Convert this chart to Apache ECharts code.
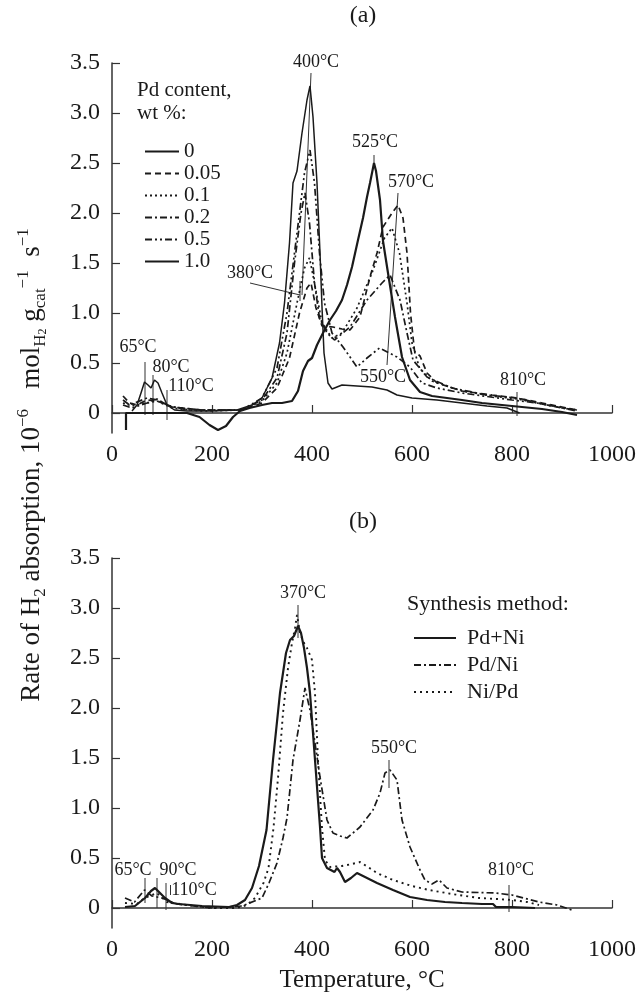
<!DOCTYPE html>
<html>
<head>
<meta charset="utf-8">
<script src="https://cdn.jsdelivr.net/npm/echarts@6/dist/echarts.min.js"></script>
<style>
  html, body { margin: 0; padding: 0; background: #fff; }
  #chart { width: 639px; height: 996px; }
</style>
</head>
<body>
<div id="chart"></div>
<script>
const FONT = '"Liberation Serif", "DejaVu Serif", serif';
const INK = '#1a1a1a';
const AXIS = '#333';

// ---- panel (a): Pd content, wt % ----
const tempA0 = [28, 28, 60, 100, 150, 175, 195, 212, 228, 242, 256, 275, 300, 320, 340, 360, 372, 382, 392, 400, 410, 422, 436, 448, 460, 470, 480, 492, 502, 510, 516, 520, 524, 528, 536, 542, 552, 566, 580, 596, 616, 640, 670, 700, 740, 780, 820, 860, 900, 930];
const rateA0 = [-0.17, 0, 0, 0, 0, -0.04, -0.12, -0.17, -0.13, -0.04, 0.02, 0.05, 0.08, 0.1, 0.1, 0.12, 0.22, 0.42, 0.52, 0.55, 0.68, 0.8, 0.93, 1.02, 1.13, 1.28, 1.46, 1.73, 1.95, 2.16, 2.3, 2.4, 2.5, 2.42, 2.13, 1.72, 1.4, 0.96, 0.56, 0.33, 0.21, 0.17, 0.15, 0.13, 0.1, 0.08, 0.06, 0.04, 0.01, -0.02];

const tempA005 = [22, 35, 50, 70, 90, 120, 180, 260, 300, 330, 355, 375, 390, 398, 408, 420, 442, 460, 476, 496, 516, 530, 542, 560, 572, 582, 590, 597, 605, 616, 630, 650, 700, 760, 810, 860, 900, 930];
const rateA005 = [0.17, 0.1, 0.08, 0.13, 0.12, 0.06, 0.03, 0.03, 0.1, 0.25, 0.55, 1.0, 1.25, 1.3, 1.05, 0.87, 0.86, 0.84, 0.83, 0.96, 1.36, 1.6, 1.86, 2.0, 2.08, 1.95, 1.6, 1.0, 0.62, 0.57, 0.4, 0.3, 0.22, 0.18, 0.15, 0.1, 0.06, 0.03];

const tempA01 = [22, 40, 70, 90, 120, 180, 260, 300, 330, 350, 370, 385, 395, 405, 420, 440, 460, 490, 520, 545, 560, 575, 590, 600, 615, 640, 700, 760, 810, 870, 930];
const rateA01 = [0.1, 0.07, 0.1, 0.12, 0.05, 0.02, 0.03, 0.12, 0.3, 0.6, 1.1, 1.45, 1.55, 1.3, 0.9, 0.75, 0.8, 1.05, 1.4, 1.75, 1.85, 1.6, 1.1, 0.7, 0.45, 0.32, 0.22, 0.17, 0.14, 0.08, 0.03];

const tempA02 = [22, 35, 70, 90, 120, 180, 260, 300, 330, 350, 365, 378, 386, 395, 405, 415, 430, 445, 476, 510, 540, 556, 576, 590, 602, 630, 680, 750, 810, 870, 930];
const rateA02 = [0.13, 0.08, 0.15, 0.13, 0.06, 0.03, 0.03, 0.13, 0.35, 0.8, 1.5, 2.0, 2.2, 1.9, 1.3, 0.95, 0.8, 0.73, 0.86, 1.13, 1.3, 1.38, 1.13, 0.8, 0.53, 0.36, 0.25, 0.18, 0.15, 0.08, 0.02];

const tempA05 = [22, 40, 70, 90, 110, 150, 260, 300, 330, 350, 370, 385, 396, 405, 415, 425, 440, 462, 490, 510, 535, 570, 596, 620, 650, 700, 800, 850, 900, 930];
const rateA05 = [0.08, 0.05, 0.1, 0.14, 0.08, 0.03, 0.03, 0.15, 0.45, 1.0, 1.8, 2.4, 2.63, 2.3, 1.6, 1.1, 0.8, 0.66, 0.46, 0.55, 0.65, 0.56, 0.46, 0.3, 0.25, 0.2, 0.13, 0.1, 0.05, 0.03];

const tempA10 = [40, 50, 58, 65, 72, 78, 85, 92, 100, 110, 125, 150, 200, 250, 280, 300, 320, 335, 345, 355, 362, 370, 380, 390, 396, 402, 410, 416, 420, 424, 432, 440, 460, 490, 520, 550, 570, 600, 650, 700, 750, 790, 815];
const rateA10 = [0.02, 0.08, 0.2, 0.31, 0.28, 0.25, 0.33, 0.3, 0.2, 0.08, 0.03, 0.02, 0.02, 0.03, 0.08, 0.15, 0.35, 0.7, 1.1, 1.7, 2.3, 2.42, 2.8, 3.13, 3.27, 2.96, 2.3, 1.6, 1.06, 0.6, 0.3, 0.24, 0.28, 0.27, 0.26, 0.23, 0.18, 0.15, 0.13, 0.1, 0.07, 0.05, 0.0];

// ---- panel (b): synthesis method ----
const tempPdNi = [26, 46, 66, 78, 86, 96, 106, 120, 133, 180, 234, 250, 266, 280, 294, 309, 322, 336, 348, 356, 364, 372, 378, 384, 390, 396, 406, 416, 420, 430, 445, 450, 456, 466, 478, 490, 510, 530, 562, 596, 630, 666, 700, 740, 762, 768, 800, 846];
const ratePdNi = [0.01, 0.02, 0.1, 0.17, 0.2, 0.15, 0.1, 0.05, 0.04, 0.02, 0.01, 0.03, 0.08, 0.2, 0.42, 0.78, 1.48, 2.15, 2.55, 2.68, 2.72, 2.82, 2.75, 2.6, 2.4, 2.15, 1.48, 0.81, 0.5, 0.4, 0.36, 0.4, 0.36, 0.26, 0.3, 0.35, 0.3, 0.25, 0.18, 0.11, 0.08, 0.06, 0.05, 0.04, 0.04, 0.01, 0.01, 0.0];

const tempPdSlNi = [26, 45, 65, 80, 100, 130, 200, 260, 300, 314, 330, 342, 350, 362, 376, 386, 396, 406, 416, 430, 442, 456, 470, 496, 522, 536, 546, 556, 570, 580, 596, 616, 626, 640, 654, 670, 700, 766, 800, 854, 890, 920];
const ratePdSlNi = [0.1, 0.06, 0.18, 0.12, 0.1, 0.04, 0.0, 0.02, 0.1, 0.25, 0.45, 0.7, 0.9, 1.48, 1.88, 2.2, 1.98, 1.65, 1.31, 0.88, 0.75, 0.72, 0.7, 0.81, 0.98, 1.15, 1.35, 1.38, 1.28, 0.88, 0.61, 0.38, 0.28, 0.24, 0.28, 0.2, 0.16, 0.15, 0.13, 0.06, 0.03, -0.02];

const tempNiSlPd = [26, 50, 65, 90, 110, 150, 200, 250, 270, 286, 303, 313, 323, 332, 342, 352, 360, 366, 370, 376, 384, 390, 400, 406, 412, 420, 426, 436, 460, 480, 496, 515, 530, 562, 600, 634, 680, 734, 770, 800, 830, 854];
const rateNiSlPd = [0.05, 0.04, 0.1, 0.15, 0.06, 0.03, 0.0, 0.0, 0.03, 0.1, 0.25, 0.4, 0.8, 1.3, 1.95, 2.4, 2.65, 2.8, 2.93, 2.75, 2.65, 2.6, 2.48, 2.15, 1.48, 0.8, 0.48, 0.41, 0.42, 0.44, 0.46, 0.4, 0.35, 0.28, 0.22, 0.18, 0.14, 0.1, 0.09, 0.08, 0.06, 0.03];

const yTicks = [0, 0.5, 1, 1.5, 2, 2.5, 3, 3.5];

// peak labels: [grid, text, T, rate]
const peakLabels = [
  [0, '400°C', 408, 3.51], [0, '525°C', 526, 2.71], [0, '570°C', 598, 2.31],
  [0, '380°C', 276, 1.40], [0, '550°C', 542, 0.36], [0, '810°C', 822, 0.33],
  [0, '65°C', 52, 0.66], [0, '80°C', 118, 0.46], [0, '110°C', 158, 0.27],
  [1, '370°C', 382, 3.15], [1, '550°C', 564, 1.60], [1, '810°C', 798, 0.38],
  [1, '65°C', 42, 0.38], [1, '90°C', 132, 0.38], [1, '110°C', 164, 0.18]
];
// leader lines: [grid, T1, rate1, T2, rate2]
const leaders = [
  [0, 398, 3.40, 380, 1.18], [0, 276, 1.30, 376, 1.18], [0, 376, 1.32, 376, 1.12],
  [0, 524, 2.58, 524, 2.45], [0, 572, 2.20, 550, 0.48], [0, 810, 0.21, 810, -0.03],
  [0, 66, 0.51, 66, -0.02], [0, 82, 0.38, 82, -0.02], [0, 110, 0.23, 110, -0.07],
  [1, 372, 3.03, 372, 2.70], [1, 554, 1.48, 554, 1.20], [1, 794, 0.23, 794, -0.04],
  [1, 66, 0.30, 66, 0.05], [1, 90, 0.30, 90, 0.0], [1, 108, 0.25, 108, -0.02],
  [1, 117, 0.23, 117, 0.13]
];

const pair = (t, r) => t.map((x, i) => [x, r[i]]);

function line(name, grid, t, r, width, type) {
  return {
    name, type: 'line', xAxisIndex: grid, yAxisIndex: grid,
    data: pair(t, r), symbol: 'none', showSymbol: false,
    lineStyle: { color: INK, width, type }, itemStyle: { color: INK },
    animation: false, silent: true
  };
}

function xAxis(grid) {
  return {
    type: 'value', gridIndex: grid, min: 0, max: 1000, interval: 200,
    axisLine: { show: true, lineStyle: { color: AXIS, width: 1.5 } },
    axisTick: { show: true, inside: true, length: 8, lineStyle: { color: AXIS, width: 1.2 } },
    axisLabel: { fontFamily: FONT, fontSize: 24, color: INK, margin: 10, formatter: v => String(v) },
    splitLine: { show: false }
  };
}

function yAxis(grid) {
  return {
    type: 'value', gridIndex: grid, min: -0.2, max: 3.5,
    axisLine: { show: true, lineStyle: { color: AXIS, width: 1.5 } },
    axisTick: { show: true, inside: true, length: 8, customValues: yTicks, lineStyle: { color: AXIS, width: 1.2 } },
    axisLabel: {
      fontFamily: FONT, fontSize: 24, color: INK, margin: 12, customValues: yTicks,
      formatter: v => (v === 0 ? '0' : v.toFixed(1))
    },
    splitLine: { show: false }
  };
}

const chart = echarts.init(document.getElementById('chart'));

const option = {
  backgroundColor: '#fff',
  grid: [
    { left: 112, top: 63, width: 500, height: 370 },
    { left: 112, top: 558, width: 500, height: 370 }
  ],
  xAxis: [
    xAxis(0),
    Object.assign(xAxis(1), {
      name: 'Temperature, °C', nameLocation: 'middle', nameGap: 40,
      nameTextStyle: { fontFamily: FONT, fontSize: 25, color: INK }
    })
  ],
  yAxis: [yAxis(0), yAxis(1)],
  legend: [
    {
      data: ['0', '0.05', '0.1', '0.2', '0.5', '1.0'],
      orient: 'vertical', left: 139, top: 136, itemWidth: 34, itemHeight: 12, itemGap: 1,
      selectedMode: false,
      itemStyle: { opacity: 0, borderWidth: 0 },
      textStyle: { fontFamily: FONT, fontSize: 21, color: INK }
    },
    {
      data: ['Pd+Ni', 'Pd/Ni', 'Ni/Pd'],
      orient: 'vertical', left: 408, top: 622, itemWidth: 42, itemHeight: 14, itemGap: 5,
      selectedMode: false,
      itemStyle: { opacity: 0, borderWidth: 0 },
      textStyle: { fontFamily: FONT, fontSize: 22, color: INK, padding: [0, 0, 0, 6] }
    }
  ],
  series: [
    line('0', 0, tempA0, rateA0, 2.2, 'solid'),
    line('0.05', 0, tempA005, rateA005, 1.7, [6, 4]),
    line('0.1', 0, tempA01, rateA01, 1.7, [2, 3]),
    line('0.2', 0, tempA02, rateA02, 1.7, [7, 3, 2, 3]),
    line('0.5', 0, tempA05, rateA05, 1.7, [7, 3, 2, 3, 2, 3]),
    line('1.0', 0, tempA10, rateA10, 1.5, 'solid'),
    line('Pd+Ni', 1, tempPdNi, ratePdNi, 2.2, 'solid'),
    line('Pd/Ni', 1, tempPdSlNi, ratePdSlNi, 1.7, [7, 3, 2, 3]),
    line('Ni/Pd', 1, tempNiSlPd, rateNiSlPd, 1.9, [2, 4])
  ]
};

chart.setOption(option);

const txt = (x, y, text, size, align) => ({
  type: 'text', x, y, silent: true,
  style: { text, font: size + 'px ' + FONT, fill: INK, align: align || 'center', verticalAlign: 'middle' }
});

const graphics = [
  txt(363, 16, '(a)', 24),
  txt(363, 522, '(b)', 24),
  txt(137, 90, 'Pd content,', 21, 'left'),
  txt(137, 113, 'wt %:', 21, 'left'),
  txt(407, 604, 'Synthesis method:', 22, 'left'),
  {
    type: 'text', x: 32, y: 465, rotation: Math.PI / 2, silent: true,
    style: {
      text: '{m|Rate of H}{sub|2}{m| absorption, 10}{sup|−6}{m|   mol}{sub|H}{ss|2}{m| g}{sub|cat}{sup|−1}{m|  s}{sup|−1}',
      align: 'center', verticalAlign: 'middle', fill: INK,
      rich: {
        m: { fontFamily: FONT, fontSize: 27, lineHeight: 34, verticalAlign: 'middle', fill: INK },
        sub: { fontFamily: FONT, fontSize: 17, verticalAlign: 'bottom', fill: INK },
        ss: { fontFamily: FONT, fontSize: 12, verticalAlign: 'bottom', fill: INK },
        sup: { fontFamily: FONT, fontSize: 17, verticalAlign: 'top', fill: INK }
      }
    }
  }
];

peakLabels.forEach(([g, text, t, v]) => {
  const p = chart.convertToPixel({ gridIndex: g }, [t, v]);
  graphics.push(txt(p[0], p[1], text, 18));
});

leaders.forEach(([g, t1, v1, t2, v2]) => {
  const a = chart.convertToPixel({ gridIndex: g }, [t1, v1]);
  const b = chart.convertToPixel({ gridIndex: g }, [t2, v2]);
  graphics.push({
    type: 'line', silent: true,
    shape: { x1: a[0], y1: a[1], x2: b[0], y2: b[1] },
    style: { stroke: INK, lineWidth: 0.9 }
  });
});

chart.setOption({ graphic: graphics });
window.addEventListener('resize', () => chart.resize());
</script>
</body>
</html>
